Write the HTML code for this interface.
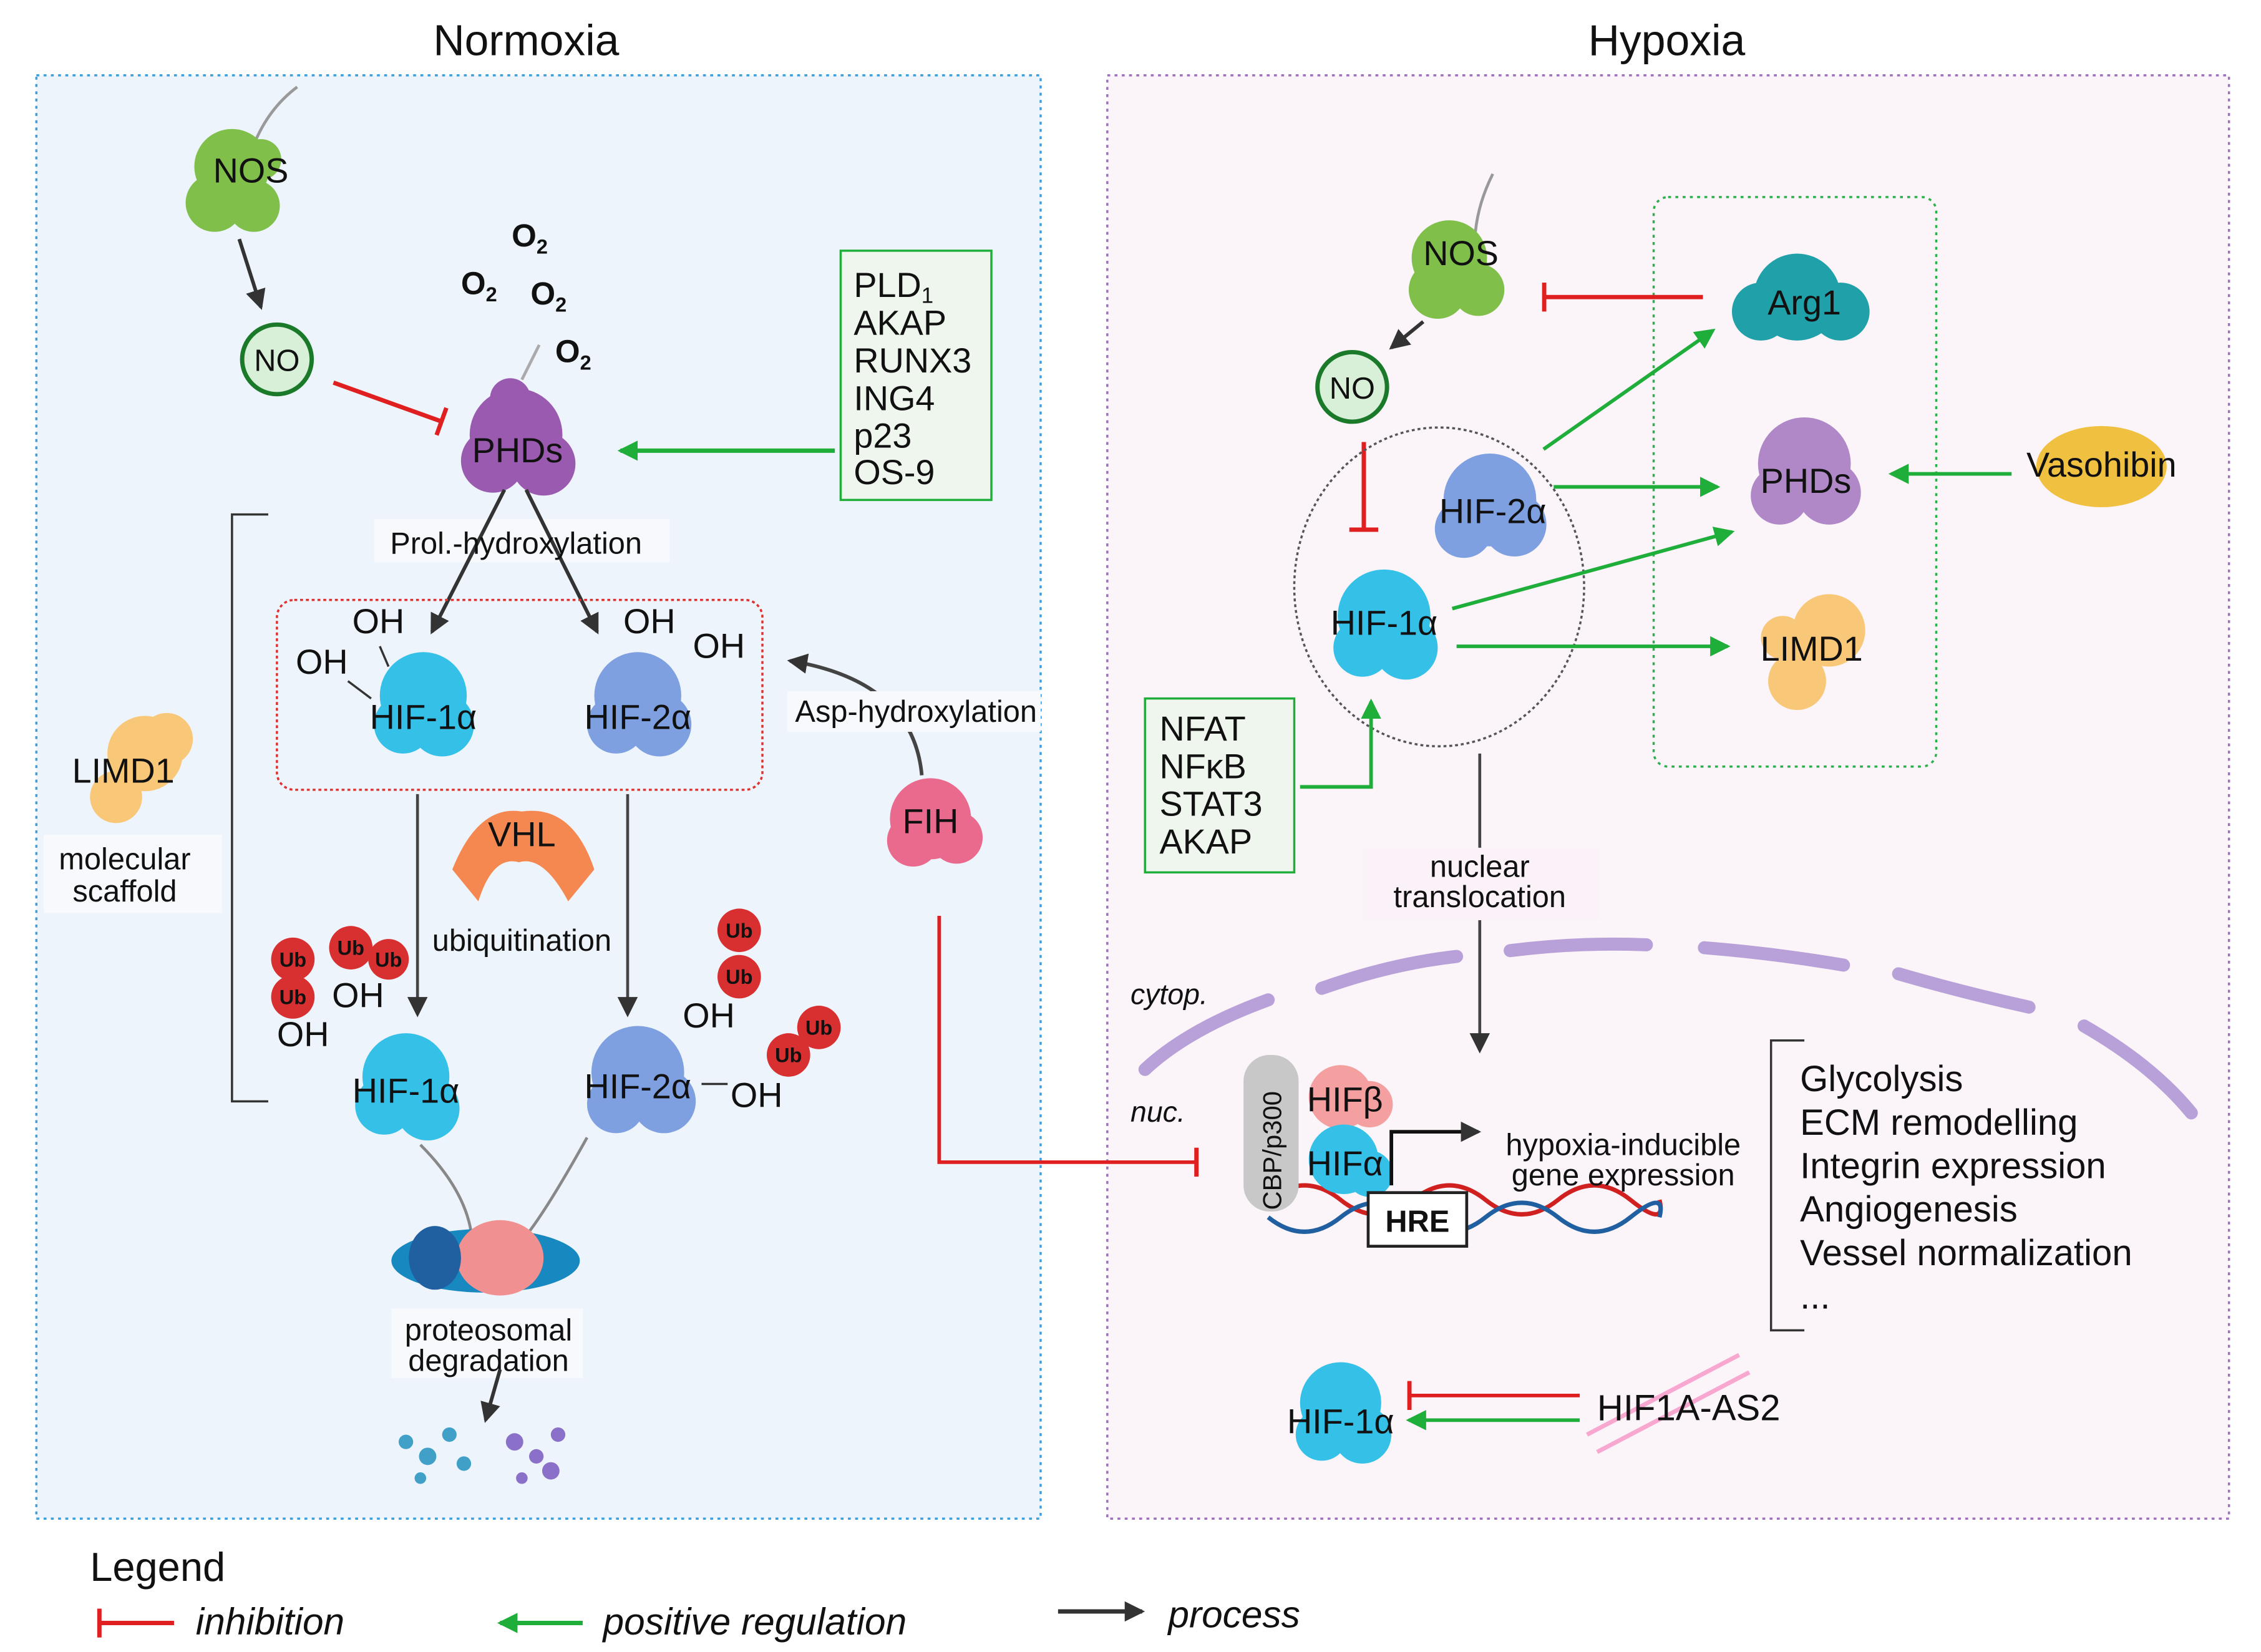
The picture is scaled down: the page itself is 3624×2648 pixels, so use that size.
<!DOCTYPE html>
<html><head><meta charset="utf-8"><style>
html,body{margin:0;padding:0;background:#fff}
svg{display:block}
text{font-family:"Liberation Sans",sans-serif;fill:#111}
</style></head><body>
<svg width="3624" height="2648" viewBox="0 0 1560 1140" xmlns="http://www.w3.org/2000/svg">
<defs>
<marker id="ag" markerWidth="16" markerHeight="14" refX="12" refY="7" orient="auto" markerUnits="userSpaceOnUse"><path d="M0,0 L14,7 L0,14 Z" fill="#1fae3a"/></marker>
<marker id="ab" markerWidth="16" markerHeight="14" refX="12" refY="7" orient="auto" markerUnits="userSpaceOnUse"><path d="M0,0 L14,7 L0,14 Z" fill="#333"/></marker>
<marker id="tr" markerWidth="4" markerHeight="20" refX="2" refY="10" orient="auto" markerUnits="userSpaceOnUse"><rect x="0" y="0" width="3" height="20" fill="#e02020"/></marker>
</defs>
<rect width="1560" height="1140" fill="#fff"/>
<text x="363" y="38" font-size="30" text-anchor="middle">Normoxia</text>
<text x="1150" y="38" font-size="30" text-anchor="middle">Hypoxia</text>
<rect x="25" y="52" width="693" height="996" fill="#eef4fb" stroke="#3aa0e0" stroke-width="1.5" stroke-dasharray="2,3"/>
<rect x="764" y="52" width="774" height="996" fill="#fbf4f9" stroke="#a070c0" stroke-width="1.5" stroke-dasharray="2,3"/>

<!-- LEFT -->
<path d="M205,60 Q185,75 175,100" stroke="#999" stroke-width="2" fill="none"/>
<g fill="#7fbf4a"><circle cx="160" cy="115" r="26"/><circle cx="148" cy="140" r="20"/><circle cx="175" cy="142" r="18"/><circle cx="180" cy="110" r="14"/></g>
<text x="173" y="126" font-size="24" text-anchor="middle">NOS</text>
<line x1="165" y1="165" x2="180" y2="212" stroke="#333" stroke-width="2.5" marker-end="url(#ab)"/>
<circle cx="191" cy="248" r="24" fill="#d8f0d8" stroke="#1a7a2a" stroke-width="3"/>
<text x="191" y="256" font-size="21" text-anchor="middle">NO</text>
<line x1="230" y1="264" x2="305" y2="291" stroke="#e02020" stroke-width="3" marker-end="url(#tr)"/>
<text x="353" y="170" font-size="22" font-weight="bold" fill="#333">O<tspan font-size="14" dy="5">2</tspan></text>
<text x="318" y="203" font-size="22" font-weight="bold" fill="#333">O<tspan font-size="14" dy="5">2</tspan></text>
<text x="366" y="210" font-size="22" font-weight="bold" fill="#333">O<tspan font-size="14" dy="5">2</tspan></text>
<text x="383" y="250" font-size="22" font-weight="bold" fill="#333">O<tspan font-size="14" dy="5">2</tspan></text>
<line x1="372" y1="238" x2="360" y2="262" stroke="#aaa" stroke-width="2"/>
<g fill="#9a5ab0"><circle cx="356" cy="300" r="32"/><circle cx="340" cy="318" r="22"/><circle cx="375" cy="320" r="22"/><circle cx="352" cy="275" r="14"/></g>
<text x="357" y="319" font-size="24" text-anchor="middle">PHDs</text>
<rect x="580" y="173" width="104" height="172" fill="#eef6ee" stroke="#1fae3a" stroke-width="1.5"/>
<text font-size="24"><tspan x="589" y="205">PLD<tspan font-size="15" dy="4">1</tspan></tspan><tspan x="589" y="231">AKAP</tspan><tspan x="589" y="257">RUNX3</tspan><tspan x="589" y="283">ING4</tspan><tspan x="589" y="309">p23</tspan><tspan x="589" y="334">OS-9</tspan></text>
<line x1="576" y1="311" x2="428" y2="311" stroke="#1fae3a" stroke-width="3" marker-end="url(#ag)"/>
<path d="M185,355 L160,355 L160,760 L185,760" stroke="#333" stroke-width="1.5" fill="none"/>
<rect x="258" y="358" width="204" height="30" fill="#f7f9fc"/>
<line x1="348" y1="338" x2="298" y2="436" stroke="#333" stroke-width="2.5" marker-end="url(#ab)"/>
<line x1="363" y1="338" x2="412" y2="436" stroke="#333" stroke-width="2.5" marker-end="url(#ab)"/>
<text x="356" y="382" font-size="21" text-anchor="middle">Prol.-hydroxylation</text>
<rect x="191" y="414" width="335" height="131" rx="12" fill="none" stroke="#e03030" stroke-width="1.5" stroke-dasharray="2,2"/>
<g fill="#35c0e8"><circle cx="292" cy="480" r="30"/><circle cx="278" cy="500" r="20"/><circle cx="305" cy="500" r="22"/></g>
<text x="292" y="503" font-size="24" text-anchor="middle">HIF-1α</text>
<text x="243" y="437" font-size="24">OH</text><text x="204" y="465" font-size="24">OH</text>
<line x1="262" y1="446" x2="268" y2="460" stroke="#333" stroke-width="1.5"/><line x1="240" y1="470" x2="256" y2="482" stroke="#333" stroke-width="1.5"/>
<g fill="#7ea0e0"><circle cx="440" cy="480" r="30"/><circle cx="425" cy="500" r="20"/><circle cx="455" cy="500" r="22"/></g>
<text x="440" y="503" font-size="24" text-anchor="middle">HIF-2α</text>
<text x="430" y="437" font-size="24">OH</text><text x="478" y="454" font-size="24">OH</text>
<path d="M636,535 Q630,470 545,456" stroke="#444" stroke-width="2.5" fill="none" marker-end="url(#ab)"/>
<rect x="543" y="477" width="175" height="28" fill="#f7f9fc"/>
<text x="632" y="498" font-size="21" text-anchor="middle">Asp-hydroxylation</text>
<g fill="#ea6a8e"><circle cx="642" cy="565" r="28"/><circle cx="630" cy="580" r="18"/><circle cx="660" cy="578" r="18"/></g>
<text x="642" y="575" font-size="24" text-anchor="middle">FIH</text>
<path d="M648,632 L648,802 L826,802" stroke="#e02020" stroke-width="2.5" fill="none" marker-end="url(#tr)"/>
<g fill="#f8c878"><circle cx="100" cy="520" r="26"/><circle cx="80" cy="550" r="18"/><circle cx="115" cy="510" r="18"/></g>
<text x="85" y="540" font-size="24" text-anchor="middle">LIMD1</text>
<rect x="30" y="576" width="123" height="54" fill="#f7f9fc"/>
<text x="86" y="600" font-size="21" text-anchor="middle">molecular</text>
<text x="86" y="622" font-size="21" text-anchor="middle">scaffold</text>
<path d="M312,600 Q330,555 360,560 Q395,555 410,600 L392,622 Q375,590 358,595 Q340,590 330,622 Z" fill="#f58850"/>
<text x="360" y="584" font-size="24" text-anchor="middle">VHL</text>
<text x="360" y="656" font-size="21" text-anchor="middle">ubiquitination</text>
<line x1="288" y1="548" x2="288" y2="700" stroke="#444" stroke-width="2" marker-end="url(#ab)"/>
<line x1="433" y1="548" x2="433" y2="700" stroke="#444" stroke-width="2" marker-end="url(#ab)"/>
<g fill="#d83030"><circle cx="202" cy="662" r="15"/><circle cx="242" cy="654" r="15"/><circle cx="268" cy="662" r="14"/><circle cx="202" cy="688" r="15"/><circle cx="510" cy="642" r="15"/><circle cx="510" cy="674" r="15"/><circle cx="565" cy="709" r="15"/><circle cx="544" cy="728" r="15"/></g>
<g font-size="14" font-weight="bold" text-anchor="middle"><text x="202" y="667" fill="#600">Ub</text><text x="242" y="659" fill="#600">Ub</text><text x="268" y="667" fill="#600">Ub</text><text x="202" y="693" fill="#600">Ub</text><text x="510" y="647" fill="#600">Ub</text><text x="510" y="679" fill="#600">Ub</text><text x="565" y="714" fill="#600">Ub</text><text x="544" y="733" fill="#600">Ub</text></g>
<text x="229" y="695" font-size="24">OH</text><text x="191" y="722" font-size="24">OH</text>
<g fill="#35c0e8"><circle cx="280" cy="743" r="30"/><circle cx="265" cy="763" r="20"/><circle cx="295" cy="765" r="22"/></g>
<text x="280" y="761" font-size="24" text-anchor="middle">HIF-1α</text>
<text x="471" y="709" font-size="24">OH</text><text x="504" y="764" font-size="24">OH</text>
<line x1="484" y1="748" x2="502" y2="748" stroke="#333" stroke-width="1.5"/>
<g fill="#7ea0e0"><circle cx="440" cy="740" r="32"/><circle cx="425" cy="762" r="20"/><circle cx="458" cy="760" r="22"/></g>
<text x="440" y="758" font-size="24" text-anchor="middle">HIF-2α</text>
<path d="M290,790 Q320,820 325,850" stroke="#888" stroke-width="2" fill="none"/>
<path d="M405,785 Q380,830 365,850" stroke="#888" stroke-width="2" fill="none"/>
<g><ellipse cx="335" cy="870" rx="65" ry="22" fill="#1888c0"/><ellipse cx="345" cy="868" rx="30" ry="26" fill="#f09090"/><ellipse cx="300" cy="868" rx="18" ry="22" fill="#2060a0"/></g>
<rect x="270" y="903" width="132" height="48" fill="#f7f9fc"/>
<text x="337" y="925" font-size="21" text-anchor="middle">proteosomal</text>
<text x="337" y="946" font-size="21" text-anchor="middle">degradation</text>
<line x1="345" y1="945" x2="335" y2="980" stroke="#333" stroke-width="2.5" marker-end="url(#ab)"/>
<g fill="#40a0c8"><circle cx="280" cy="995" r="5"/><circle cx="295" cy="1005" r="6"/><circle cx="310" cy="990" r="5"/><circle cx="290" cy="1020" r="4"/><circle cx="320" cy="1010" r="5"/></g>
<g fill="#8a70c8"><circle cx="355" cy="995" r="6"/><circle cx="370" cy="1005" r="5"/><circle cx="385" cy="990" r="5"/><circle cx="360" cy="1020" r="4"/><circle cx="380" cy="1015" r="6"/></g>

<!-- RIGHT -->
<rect x="1141" y="136" width="195" height="393" rx="10" fill="none" stroke="#2ab04a" stroke-width="1.5" stroke-dasharray="2,3"/>
<path d="M1030,120 Q1020,140 1018,160" stroke="#999" stroke-width="2" fill="none"/>
<g fill="#7fbf4a"><circle cx="1000" cy="178" r="26"/><circle cx="992" cy="200" r="20"/><circle cx="1020" cy="200" r="18"/></g>
<text x="1008" y="183" font-size="24" text-anchor="middle">NOS</text>
<line x1="982" y1="222" x2="960" y2="240" stroke="#333" stroke-width="2.5" marker-end="url(#ab)"/>
<circle cx="933" cy="267" r="24" fill="#d8f0d8" stroke="#1a7a2a" stroke-width="3"/>
<text x="933" y="275" font-size="21" text-anchor="middle">NO</text>
<line x1="1175" y1="205" x2="1065" y2="205" stroke="#e02020" stroke-width="3" marker-end="url(#tr)"/>
<line x1="941" y1="305" x2="941" y2="366" stroke="#e02020" stroke-width="3" marker-end="url(#tr)"/>
<g fill="#20a0a8"><circle cx="1240" cy="205" r="30"/><circle cx="1215" cy="215" r="20"/><circle cx="1270" cy="215" r="20"/></g>
<text x="1245" y="217" font-size="24" text-anchor="middle">Arg1</text>
<ellipse cx="993" cy="405" rx="100" ry="110" fill="none" stroke="#555" stroke-width="1.5" stroke-dasharray="2,2"/>
<g fill="#7ea0e0"><circle cx="1028" cy="345" r="32"/><circle cx="1010" cy="365" r="20"/><circle cx="1045" cy="362" r="22"/></g>
<text x="1030" y="361" font-size="24" text-anchor="middle">HIF-2α</text>
<g fill="#35c0e8"><circle cx="955" cy="425" r="32"/><circle cx="940" cy="447" r="20"/><circle cx="970" cy="447" r="22"/></g>
<text x="955" y="438" font-size="24" text-anchor="middle">HIF-1α</text>
<g fill="#b088c8"><circle cx="1245" cy="320" r="32"/><circle cx="1228" cy="342" r="20"/><circle cx="1262" cy="340" r="22"/></g>
<text x="1246" y="340" font-size="24" text-anchor="middle">PHDs</text>
<g fill="#f8c878"><circle cx="1262" cy="435" r="25"/><circle cx="1240" cy="470" r="20"/><circle cx="1230" cy="440" r="15"/></g>
<text x="1250" y="456" font-size="24" text-anchor="middle">LIMD1</text>
<g fill="#f0c040"><ellipse cx="1450" cy="322" rx="45" ry="28"/></g>
<text x="1450" y="329" font-size="24" text-anchor="middle">Vasohibin</text>
<line x1="1065" y1="310" x2="1182" y2="228" stroke="#1fae3a" stroke-width="2.5" marker-end="url(#ag)"/>
<line x1="1072" y1="336" x2="1185" y2="336" stroke="#1fae3a" stroke-width="2.5" marker-end="url(#ag)"/>
<line x1="1002" y1="420" x2="1195" y2="367" stroke="#1fae3a" stroke-width="2.5" marker-end="url(#ag)"/>
<line x1="1005" y1="446" x2="1192" y2="446" stroke="#1fae3a" stroke-width="2.5" marker-end="url(#ag)"/>
<line x1="1388" y1="327" x2="1305" y2="327" stroke="#1fae3a" stroke-width="2.5" marker-end="url(#ag)"/>
<rect x="790" y="482" width="103" height="120" fill="#eef6ee" stroke="#1fae3a" stroke-width="1.5"/>
<text font-size="24"><tspan x="800" y="511">NFAT</tspan><tspan x="800" y="537">NFκB</tspan><tspan x="800" y="563">STAT3</tspan><tspan x="800" y="589">AKAP</tspan></text>
<path d="M897,543 L946,543 L946,484" stroke="#1fae3a" stroke-width="2.5" fill="none" marker-end="url(#ag)"/>
<line x1="1021" y1="520" x2="1021" y2="725" stroke="#444" stroke-width="2" marker-end="url(#ab)"/>
<rect x="940" y="585" width="164" height="50" fill="#faf2f8"/>
<text x="1021" y="605" font-size="21" text-anchor="middle">nuclear</text>
<text x="1021" y="626" font-size="21" text-anchor="middle">translocation</text>
<g stroke="#b8a0d8" stroke-width="9" stroke-linecap="round" fill="none">
<path d="M790,738 Q820,710 875,690"/><path d="M912,682 Q960,665 1005,660"/><path d="M1042,656 Q1090,650 1136,652"/><path d="M1176,654 Q1225,658 1272,666"/><path d="M1310,672 Q1355,685 1400,695"/><path d="M1438,708 Q1485,735 1512,768"/>
</g>
<text x="780" y="693" font-size="20" font-style="italic" fill="#5a4a9a">cytop.</text>
<text x="780" y="774" font-size="20" font-style="italic" fill="#5a4a9a">nuc.</text>
<path d="M875,828 Q900,808 925,828 T975,828 T1025,828 T1075,828 T1125,828 T1145,828" stroke="#d02020" stroke-width="3" fill="none"/>
<path d="M875,840 Q900,860 925,840 T975,840 T1025,840 T1075,840 T1125,840 T1145,840" stroke="#2060a0" stroke-width="3" fill="none"/>
<rect x="858" y="728" width="38" height="108" rx="18" fill="#c8c8c8"/>
<text x="884" y="835" font-size="18" transform="rotate(-90 884 835)" fill="#222">CBP/p300</text>
<g fill="#f4a0a0"><circle cx="925" cy="757" r="22"/><circle cx="945" cy="762" r="16"/></g>
<text x="928" y="767" font-size="24" text-anchor="middle">HIFβ</text>
<g fill="#35c0e8"><circle cx="927" cy="800" r="24"/><circle cx="945" cy="810" r="16"/></g>
<text x="928" y="811" font-size="24" text-anchor="middle">HIFα</text>
<rect x="944" y="823" width="68" height="37" fill="#fff" stroke="#222" stroke-width="2"/>
<text x="978" y="850" font-size="21" font-weight="bold" text-anchor="middle">HRE</text>
<path d="M960,818 L960,781 L1020,781" stroke="#111" stroke-width="2.5" fill="none" marker-end="url(#ab)"/>
<text x="1120" y="797" font-size="21" text-anchor="middle">hypoxia-inducible</text>
<text x="1120" y="818" font-size="21" text-anchor="middle">gene expression</text>
<path d="M1245,718 L1222,718 L1222,918 L1245,918" stroke="#333" stroke-width="1.5" fill="none"/>
<text font-size="25"><tspan x="1242" y="753">Glycolysis</tspan><tspan x="1242" y="783">ECM remodelling</tspan><tspan x="1242" y="813">Integrin expression</tspan><tspan x="1242" y="843">Angiogenesis</tspan><tspan x="1242" y="873">Vessel normalization</tspan><tspan x="1242" y="903">...</tspan></text>
<g fill="#35c0e8"><circle cx="925" cy="968" r="28"/><circle cx="912" cy="990" r="18"/><circle cx="940" cy="990" r="20"/></g>
<text x="925" y="989" font-size="24" text-anchor="middle">HIF-1α</text>
<line x1="1090" y1="963" x2="972" y2="963" stroke="#e02020" stroke-width="2.5" marker-end="url(#tr)"/>
<line x1="1090" y1="980" x2="972" y2="980" stroke="#1fae3a" stroke-width="2.5" marker-end="url(#ag)"/>
<path d="M1095,990 L1200,935 M1102,1002 L1207,947" stroke="#f8a8d0" stroke-width="3"/>
<text x="1102" y="980" font-size="25">HIF1A-AS2</text>

<!-- Legend -->
<text x="62" y="1091" font-size="28">Legend</text>
<line x1="120" y1="1120" x2="68" y2="1120" stroke="#e02020" stroke-width="3" marker-end="url(#tr)"/>
<text x="135" y="1128" font-size="26" font-style="italic">inhibition</text>
<line x1="402" y1="1120" x2="345" y2="1120" stroke="#1fae3a" stroke-width="3" marker-end="url(#ag)"/>
<text x="416" y="1128" font-size="26" font-style="italic">positive regulation</text>
<line x1="730" y1="1112" x2="788" y2="1112" stroke="#333" stroke-width="3" marker-end="url(#ab)"/>
<text x="806" y="1123" font-size="26" font-style="italic">process</text>
</svg>
</body></html>
